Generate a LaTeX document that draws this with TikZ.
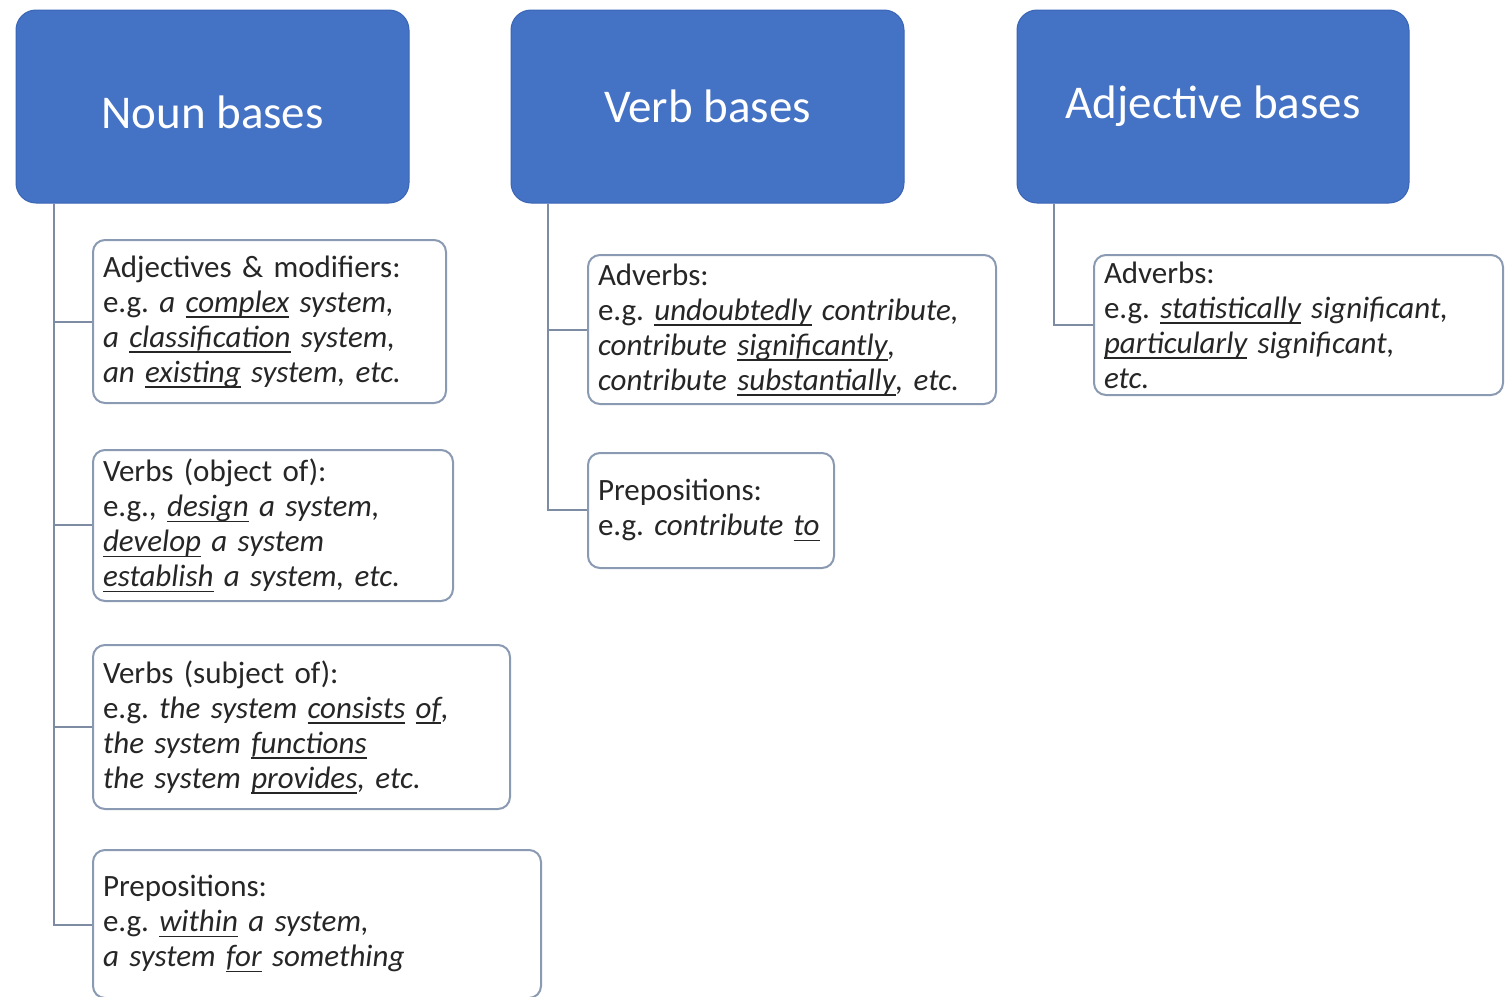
\documentclass[tikz,border=0pt]{standalone}
\usepackage{fontspec}
\setmainfont{Carlito}
\frenchspacing
\definecolor{hdrblue}{HTML}{4472C4}
\definecolor{hdredge}{HTML}{3B65B5}
\definecolor{leafedge}{HTML}{8A9AB2}
\definecolor{connc}{HTML}{7D8CA3}
\definecolor{txt}{HTML}{262626}
\newcommand\ulx[1]{\setbox0\hbox{#1}\rlap{\rule[-5.5pt]{\wd0}{1.4pt}}\box0\relax}
\tikzset{
  hdr/.style={rectangle, rounded corners=20pt, fill=hdrblue, draw=hdredge, line width=1pt,
    text=white, font=\fontsize{47}{56}\selectfont, inner sep=0pt},
  leaf/.style={rectangle, rounded corners=12pt, fill=white, draw=leafedge, line width=2pt,
    text=txt, font=\fontsize{31}{35}\selectfont, align=left, inner xsep=10pt, inner ysep=0pt},
  conn/.style={draw=connc, line width=2pt},
}
\begin{document}
\begin{tikzpicture}[x=1pt,y=-1pt]
\useasboundingbox[fill=white] (0,0) rectangle (1506,996);
% headers
\node[hdr, minimum width=393pt, minimum height=193pt] (noun) at (212.5,106.5) {};
\node[text=white, font=\fontsize{47}{56}\selectfont] (nount) at (212.5,112) {Noun bases};
\node[hdr, minimum width=393pt, minimum height=193pt] (verb) at (707.5,106.5) {Verb bases};
\node[hdr, minimum width=392pt, minimum height=193pt] (adj) at (1213,106.5) {Adjective bases};
% connectors
\draw[conn] ([xshift=38pt]noun.south west) |- (92,322) coordinate (c1);
\draw[conn] ([xshift=38pt]noun.south west) |- (92,525) coordinate (c2);
\draw[conn] ([xshift=38pt]noun.south west) |- (92,727) coordinate (c3);
\draw[conn] ([xshift=38pt]noun.south west) |- (92,925) coordinate (c4);
\draw[conn] ([xshift=37pt]verb.south west) |- (587,330) coordinate (c5);
\draw[conn] ([xshift=37pt]verb.south west) |- (587,510) coordinate (c6);
\draw[conn] ([xshift=37pt]adj.south west) |- (1093,325) coordinate (c7);
% noun children
\node[leaf, text width=333pt, minimum height=163pt] (n1) at (269.5,321.5)
 {Adjectives \& modifiers:\\
  \mbox{e.g. \textit{a \ulx{complex} system,}}\\
  \mbox{\textit{a \ulx{classification} system,}}\\
  \mbox{\textit{an \ulx{existing} system, etc.}}};
\node[leaf, text width=340pt, minimum height=151pt] (n2) at (273,525.5)
 {Verbs (object of):\\
  \mbox{e.g., \textit{\ulx{design} a system,}}\\
  \mbox{\textit{\ulx{develop} a system}}\\
  \mbox{\textit{\ulx{establish} a system, etc.}}};
\node[leaf, text width=397pt, minimum height=164pt] (n3) at (301.5,727)
 {Verbs (subject of):\\
  \mbox{e.g. \textit{the system \ulx{consists} \ulx{of},}}\\
  \mbox{\textit{the system \ulx{functions}}}\\
  \mbox{\textit{the system \ulx{provides}, etc.}}};
\node[leaf, text width=428pt, minimum height=148pt] (n4) at (317,924)
 {Prepositions:\\
  \mbox{e.g. \textit{\ulx{within} a system,}}\\
  \mbox{\textit{a system \ulx{for} something}}};
% verb children
\node[leaf, text width=388pt, minimum height=149pt] (v1) at (792,329.5)
 {Adverbs:\\
  \mbox{e.g. \textit{\ulx{undoubtedly} contribute,}}\\
  \mbox{\textit{contribute \ulx{significantly},}}\\
  \mbox{\textit{contribute \ulx{substantially}, etc.}}};
\node[leaf, text width=226pt, minimum height=115pt] (v2) at (711,510.5)
 {Prepositions:\\
  \mbox{e.g. \textit{contribute \ulx{to}}}};
% adjective child
\node[leaf, text width=389pt, minimum height=140pt] (a1) at (1298.5,325)
 {Adverbs:\\
  \mbox{e.g. \textit{\ulx{statistically} significant,}}\\
  \mbox{\textit{\ulx{particularly} significant,}}\\
  \textit{etc.}};
\end{tikzpicture}
\end{document}
